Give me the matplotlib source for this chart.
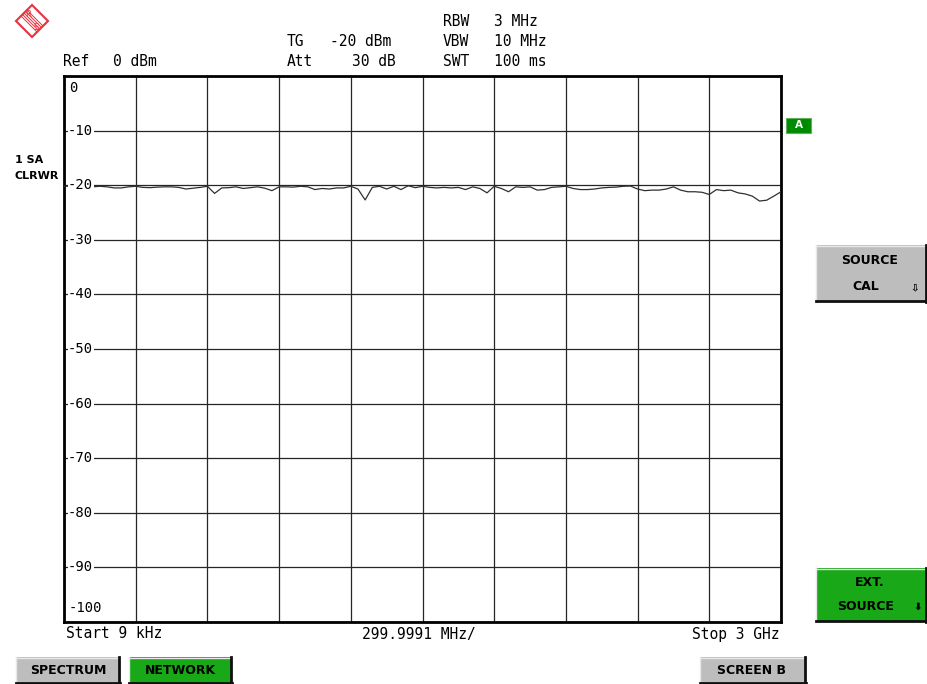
import matplotlib
matplotlib.use("Agg")
import matplotlib.pyplot as plt
from matplotlib.patches import Rectangle, Polygon
import numpy as np

# ---------------- data ----------------
level_dbm = [
    -20.2, -20.2, -20.15, -20.2, -20.3, -20.2, -20.3, -20.5, -20.5, -20.3,
    -20.2, -20.4, -20.45, -20.35, -20.3, -20.3, -20.4, -20.7, -20.55, -20.4,
    -20.2, -21.5, -20.5, -20.45, -20.3, -20.6, -20.45, -20.3, -20.55, -21.0,
    -20.3, -20.3, -20.35, -20.2, -20.3, -20.8, -20.6, -20.7, -20.5, -20.5,
    -20.2, -20.7, -22.7, -20.4, -20.2, -20.7, -20.2, -20.8, -20.1, -20.45,
    -20.2, -20.4, -20.5, -20.4, -20.5, -20.4, -20.8, -20.3, -20.6, -21.4,
    -20.2, -20.6, -21.2, -20.3, -20.4, -20.3, -20.9, -20.8, -20.4, -20.3,
    -20.2, -20.6, -20.8, -20.8, -20.7, -20.5, -20.4, -20.35, -20.2, -20.15,
    -20.7, -21.0, -20.9, -20.9, -20.7, -20.3, -20.9, -21.2, -21.2, -21.3,
    -21.7, -20.8, -21.0, -20.9, -21.4, -21.6, -22.0, -22.9, -22.75, -22.0,
    -21.2,
]
start_mhz = 0.009
stop_mhz = 3000.0
freq_mhz = np.linspace(start_mhz, stop_mhz, len(level_dbm))

y_ticks = [0, -10, -20, -30, -40, -50, -60, -70, -80, -90, -100]
y_tick_labels = ["0", "-10", "-20", "-30", "-40", "-50", "-60", "-70", "-80", "-90", "-100"]
x_divisions = 10

MONO = "DejaVu Sans Mono"
BOLD = "DejaVu Sans"

W, H = 927, 684
fig = plt.figure(figsize=(W / 100, H / 100), dpi=100)
fig.patch.set_facecolor("white")

# background overlay in pixel coordinates
bg = fig.add_axes([0, 0, 1, 1], zorder=0)
bg.set_xlim(0, W)
bg.set_ylim(H, 0)
bg.axis("off")

# ---------------- main plot ----------------
L, R, T, B = 64, 781, 76, 622
ax = fig.add_axes([L / W, (H - B) / H, (R - L) / W, (B - T) / H], zorder=1)
ax.set_facecolor("white")
ax.set_xlim(0, stop_mhz)
ax.set_ylim(-100, 0)
ax.set_xticks(np.linspace(0, stop_mhz, x_divisions + 1))
ax.set_yticks(y_ticks)
ax.tick_params(length=0, labelbottom=False, labelleft=False)
ax.grid(True, color="#262626", lw=0.9)
for s in ax.spines.values():
    s.set_color("black")
    s.set_linewidth(2.0)

ax.plot(freq_mhz, level_dbm, color="#303030", lw=0.9, zorder=3)

xoff = 4 * stop_mhz / (R - L)
for v, lab in zip(y_ticks, y_tick_labels):
    if v == 0:
        ax.text(xoff * 1.2, v - 2.2, lab, fontsize=10, family=MONO,
                ha="left", va="center", zorder=4)
    elif v == -100:
        ax.text(xoff * 1.2, v + 2.6, lab, fontsize=10, family=MONO,
                ha="left", va="center", zorder=4)
    else:
        ax.text(xoff, v, lab, fontsize=10, family=MONO, ha="left", va="center",
                zorder=4, bbox=dict(facecolor="white", edgecolor="none", pad=0.3))

# ---------------- header text ----------------
def ptext(x, y, s, size=10.5, weight="normal", family=MONO, color="black", ha="left"):
    bg.text(x, y, s, fontsize=size, fontweight=weight, family=family,
            color=color, ha=ha, va="center")

ptext(63, 62, "Ref")
ptext(113, 62, "0 dBm")
ptext(287, 42, "TG")
ptext(330, 42, "-20 dBm")
ptext(287, 62, "Att")
ptext(352, 62, "30 dB")
ptext(443, 22, "RBW")
ptext(494, 22, "3 MHz")
ptext(443, 42, "VBW")
ptext(494, 42, "10 MHz")
ptext(443, 62, "SWT")
ptext(494, 62, "100 ms")

# bottom axis text
ptext(66, 634, "Start 9 kHz")
ptext(419, 634, "299.9991 MHz/", ha="center")
ptext(780, 634, "Stop 3 GHz", ha="right")

# left trace labels
ptext(15, 160, "1 SA", size=8, weight="bold", family=BOLD)
ptext(15, 176, "CLRWR", size=8, weight="bold", family=BOLD)

# ---------------- logo ----------------
cx, cy, r = 32, 21, 16
red = "#e8323c"
bg.add_patch(Polygon([[cx, cy - r], [cx + r, cy], [cx, cy + r], [cx - r, cy]],
                     closed=True, fill=False, edgecolor=red, lw=1.5))
for d in (-3, -1.5, 0, 1.5, 3):
    bg.plot([cx - 8 + d, cx + 8 + d], [cy - 8 - d, cy + 8 - d], color=red, lw=0.7)
bg.text(cx - 4, cy - 6.5, "R", fontsize=6, color=red, ha="center", va="center")
bg.text(cx + 4, cy + 7, "S", fontsize=6, color=red, ha="center", va="center")

# ---------------- buttons ----------------
GRAY = "#bdbdbd"
GREEN = "#18a818"


def button(x0, y0, x1, y1, face, lines, arrow=None, size=9):
    bg.add_patch(Rectangle((x0, y0), x1 - x0, y1 - y0, facecolor=face,
                           edgecolor="none", zorder=2))
    bg.plot([x0, x1], [y0 + 0.5, y0 + 0.5], color="#e8e8e8", lw=1, zorder=3)
    bg.plot([x0 + 0.5, x0 + 0.5], [y0, y1], color="#e8e8e8", lw=1, zorder=3)
    bg.plot([x0, x1], [y1 - 1, y1 - 1], color="#101010", lw=2, zorder=3)
    bg.plot([x1 - 1, x1 - 1], [y0, y1], color="#101010", lw=2, zorder=3)
    for (tx, ty, s) in lines:
        bg.text(tx, ty, s, fontsize=size, fontweight="bold", family=BOLD,
                ha="center", va="center", zorder=4)
    if arrow is not None:
        bg.text(arrow[0], arrow[1], arrow[2], fontsize=7.5, fontweight="bold",
                family="DejaVu Sans", ha="center", va="center", zorder=4)


button(816, 245, 927, 302, GRAY, [(870, 261, "SOURCE"), (866, 286, "CAL")],
       arrow=(915, 287, "⇩"))
button(816, 568, 927, 622, GREEN, [(870, 582, "EXT."), (866, 606, "SOURCE")],
       arrow=(918, 607, "⬇"))
button(16, 657, 120, 684, GRAY, [(68, 671, "SPECTRUM")])
button(129, 657, 232, 684, GREEN, [(180, 671, "NETWORK")])
button(700, 657, 806, 684, GRAY, [(752, 671, "SCREEN B")])

# green "A" marker
bg.add_patch(Rectangle((786, 118), 25, 15, facecolor="#008a00", edgecolor="#60b060",
                       lw=0.8, zorder=2))
bg.text(798.5, 125.5, "A", fontsize=7.5, fontweight="bold", color="white",
        family=BOLD, ha="center", va="center", zorder=4)

fig.savefig("out.png", dpi=100, facecolor="white")
